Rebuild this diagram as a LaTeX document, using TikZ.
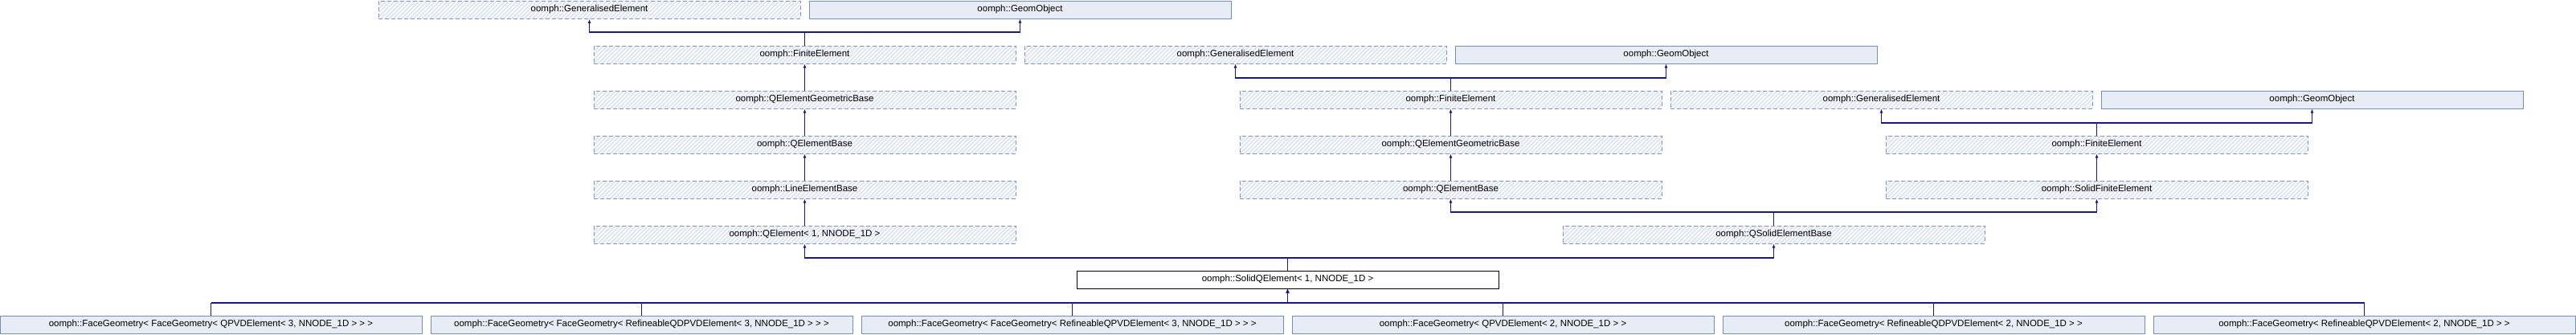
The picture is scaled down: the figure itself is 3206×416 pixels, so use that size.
\documentclass[tikz,border=0pt]{standalone}
\usepackage{fontspec}
\setmainfont{Liberation Sans}
\usetikzlibrary{patterns.meta,arrows.meta}
\definecolor{hatchc}{RGB}{220,226,240}
\definecolor{hborder}{RGB}{124,150,206}
\definecolor{gfill}{RGB}{232,236,245}
\definecolor{gborder}{RGB}{112,143,199}
\definecolor{edgec}{RGB}{22,22,150}
\tikzset{
  basebox/.style={minimum width=525pt, minimum height=22pt, inner sep=0pt, line width=1pt,
    font=\fontsize{11.5}{12}\selectfont},
  hbox/.style={basebox, draw=hborder, dash pattern=on 5pt off 3pt,
    pattern={Lines[angle=45,distance=3.6pt,line width=1.7pt]}, pattern color=hatchc},
  gbox/.style={basebox, draw=gborder, fill=gfill},
  mbox/.style={basebox, draw=black, fill=white},
  conn/.style={draw=edgec, line width=1.5pt, -{Latex[length=5pt,width=4pt]}},
  stem/.style={draw=edgec, line width=0.9pt},
}
\begin{document}
\begin{tikzpicture}[x=1pt,y=1pt]
\useasboundingbox (0,0) rectangle (3206,-416);
% row 0
\node[hbox] (ge0) at (733.5,-12) {oomph::GeneralisedElement};
\node[gbox] (go0) at (1269.5,-12) {oomph::GeomObject};
% row 1
\node[hbox] (fe1) at (1001.5,-68) {oomph::FiniteElement};
\node[hbox] (ge1) at (1537.5,-68) {oomph::GeneralisedElement};
\node[gbox] (go1) at (2073.5,-68) {oomph::GeomObject};
% row 2
\node[hbox] (qegb2) at (1001.5,-124) {oomph::QElementGeometricBase};
\node[hbox] (fe2) at (1805.5,-124) {oomph::FiniteElement};
\node[hbox] (ge2) at (2341.5,-124) {oomph::GeneralisedElement};
\node[gbox] (go2) at (2877.5,-124) {oomph::GeomObject};
% row 3
\node[hbox] (qeb3) at (1001.5,-180) {oomph::QElementBase};
\node[hbox] (qegb3) at (1805.5,-180) {oomph::QElementGeometricBase};
\node[hbox] (fe3) at (2609.5,-180) {oomph::FiniteElement};
% row 4
\node[hbox] (leb4) at (1001.5,-236) {oomph::LineElementBase};
\node[hbox] (qeb4) at (1805.5,-236) {oomph::QElementBase};
\node[hbox] (sfe4) at (2609.5,-236) {oomph::SolidFiniteElement};
% row 5
\node[hbox] (qel5) at (1001.5,-292) {oomph::QElement< 1, NNODE\_1D >};
\node[hbox] (qseb5) at (2207.5,-292) {oomph::QSolidElementBase};
% row 6
\node[mbox] (sqe) at (1602.5,-348) {oomph::SolidQElement< 1, NNODE\_1D >};
% row 7
\node[gbox] (b1) at (262.5,-404) {oomph::FaceGeometry< FaceGeometry< QPVDElement< 3, NNODE\_1D > > >};
\node[gbox] (b2) at (798.5,-404) {oomph::FaceGeometry< FaceGeometry< RefineableQDPVDElement< 3, NNODE\_1D > > >};
\node[gbox] (b3) at (1334.5,-404) {oomph::FaceGeometry< FaceGeometry< RefineableQPVDElement< 3, NNODE\_1D > > >};
\node[gbox] (b4) at (1870.5,-404) {oomph::FaceGeometry< QPVDElement< 2, NNODE\_1D > >};
\node[gbox] (b5) at (2406.5,-404) {oomph::FaceGeometry< RefineableQDPVDElement< 2, NNODE\_1D > >};
\node[gbox] (b6) at (2942.5,-404) {oomph::FaceGeometry< RefineableQPVDElement< 2, NNODE\_1D > >};
% junction levels
\coordinate (j1) at (0,-40);
\coordinate (j2) at (0,-97);
\coordinate (j3) at (0,-153);
\coordinate (j5) at (0,-264);
\coordinate (j6) at (0,-321);
\coordinate (j7) at (0,-377);
% connectors
\draw[stem] (fe1.north) -- (fe1.north |- j1);
\draw[conn] (fe1.north |- j1) -- (ge0.south |- j1) -- (ge0.south);
\draw[conn] (fe1.north |- j1) -- (go0.south |- j1) -- (go0.south);
\draw[conn] (qegb2) -- (fe1);
\draw[stem] (fe2.north) -- (fe2.north |- j2);
\draw[conn] (fe2.north |- j2) -- (ge1.south |- j2) -- (ge1.south);
\draw[conn] (fe2.north |- j2) -- (go1.south |- j2) -- (go1.south);
\draw[conn] (qeb3) -- (qegb2);
\draw[conn] (qegb3) -- (fe2);
\draw[stem] (fe3.north) -- (fe3.north |- j3);
\draw[conn] (fe3.north |- j3) -- (ge2.south |- j3) -- (ge2.south);
\draw[conn] (fe3.north |- j3) -- (go2.south |- j3) -- (go2.south);
\draw[conn] (leb4) -- (qeb3);
\draw[conn] (qeb4) -- (qegb3);
\draw[conn] (sfe4) -- (fe3);
\draw[conn] (qel5) -- (leb4);
\draw[stem] (qseb5.north) -- (qseb5.north |- j5);
\draw[conn] (qseb5.north |- j5) -- (qeb4.south |- j5) -- (qeb4.south);
\draw[conn] (qseb5.north |- j5) -- (sfe4.south |- j5) -- (sfe4.south);
\draw[stem] (sqe.north) -- (sqe.north |- j6);
\draw[conn] (sqe.north |- j6) -- (qel5.south |- j6) -- (qel5.south);
\draw[conn] (sqe.north |- j6) -- (qseb5.south |- j6) -- (qseb5.south);
\foreach \b in {b1,b2,b3,b4,b5,b6}{
  \draw[stem] (\b.north) -- (\b.north |- j7);
  \draw[conn] (\b.north |- j7) -- (sqe.south |- j7) -- (sqe.south);
}
\end{tikzpicture}
\end{document}
